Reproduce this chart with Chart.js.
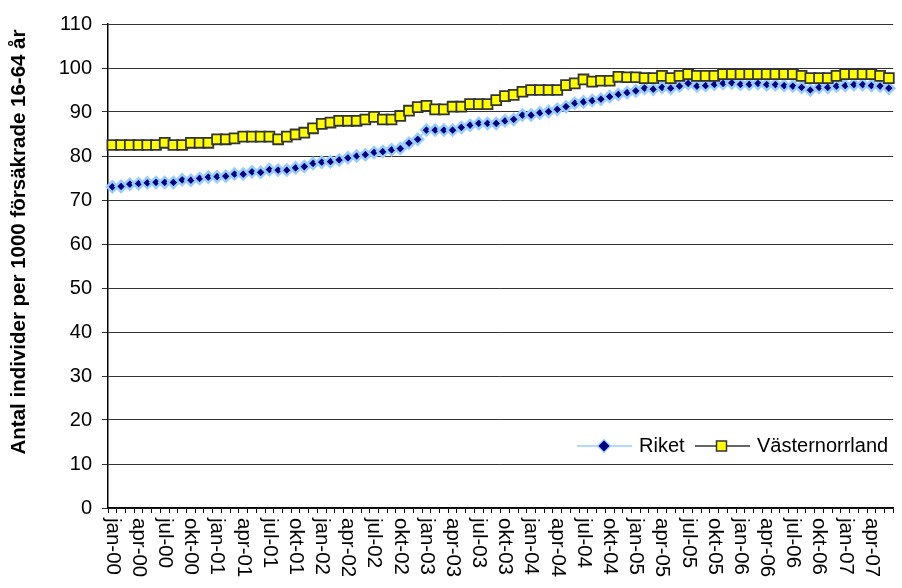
<!DOCTYPE html>
<html>
<head>
<meta charset="utf-8">
<script src="https://cdn.jsdelivr.net/npm/chart.js@4.4.1/dist/chart.umd.min.js"></script>
<style>
  html, body { margin: 0; padding: 0; background: #fff; }
  #wrap { width: 902px; height: 588px; }
</style>
</head>
<body>
<div id="wrap"><canvas id="chart" width="902" height="588"></canvas></div>
<script>
// month names (Swedish) and years used for the category labels
const monthNames = ["jan","feb","mar","apr","maj","jun","jul","aug","sep","okt","nov","dec"];
const years = ["00","01","02","03","04","05","06","07"];

// Riket, jan-00 .. jun-07
const riket = [
  73.0,73.1,73.6,73.7,73.9,74.0,74.0,74.0,74.6,74.5,74.9,75.2,
  75.3,75.4,75.9,75.9,76.4,76.3,76.9,76.8,76.8,77.3,77.6,78.3,
  78.6,78.7,79.1,79.6,80.0,80.3,80.8,81.0,81.4,81.7,82.9,83.8,
  85.9,85.9,85.9,85.9,86.5,87.0,87.4,87.4,87.4,88.0,88.3,89.3,
  89.3,89.8,90.1,90.6,91.2,92.0,92.3,92.6,92.9,93.5,94.0,94.4,
  94.8,95.4,95.2,95.6,95.4,95.9,96.5,95.9,96.0,96.3,96.5,96.6,
  96.3,96.3,96.5,96.2,96.2,96.0,95.9,95.6,95.0,95.6,95.6,95.9,
  96.0,96.2,96.2,96.0,95.9,95.4
];

// Västernorrland, jan-00 .. jun-07
const vasternorrland = [
  82.5,82.5,82.5,82.5,82.5,82.5,83.0,82.5,82.5,83.0,83.0,83.0,
  83.8,83.8,84.0,84.4,84.4,84.4,84.4,83.8,84.4,84.9,85.3,86.3,
  87.3,87.6,88.0,88.0,88.0,88.3,88.9,88.3,88.3,89.1,90.3,91.1,
  91.4,90.6,90.6,91.2,91.2,91.8,91.8,91.8,92.7,93.6,93.9,94.6,
  95.0,95.0,95.0,95.0,96.1,96.5,97.4,96.9,97.1,97.1,98.0,97.9,
  97.9,97.7,97.7,98.2,97.7,98.2,98.6,98.2,98.2,98.2,98.6,98.6,
  98.6,98.6,98.6,98.6,98.6,98.6,98.6,98.2,97.7,97.7,97.7,98.2,
  98.6,98.6,98.6,98.6,98.2,97.7
];

const yTitle = "Antal individer per 1000 försäkrade 16-64 år";

const labels = [];
years.forEach(y => monthNames.forEach(m => labels.push(m + "-" + y)));
labels.length = riket.length;

const FONT = "'Liberation Sans', Arial, sans-serif";

// x labels rotated clockwise, y title and the legend box
const extras = {
  id: "extras",
  afterDraw(chart){
    const ctx = chart.ctx;
    const xs = chart.scales.x;
    ctx.save();
    ctx.fillStyle = "#000";
    ctx.font = "20.5px " + FONT;
    ctx.textAlign = "left";
    ctx.textBaseline = "middle";
    labels.forEach((lab, i) => {
      if (i % 3 !== 0) return;
      const x = xs.getPixelForValue(i);
      ctx.save();
      ctx.translate(x, 518);
      ctx.rotate(Math.PI / 2);
      ctx.fillText(lab, 0, 0);
      ctx.restore();
    });

    // y title
    ctx.save();
    ctx.font = "bold 20.5px " + FONT;
    ctx.textAlign = "center";
    ctx.translate(19, 242);
    ctx.rotate(-Math.PI / 2);
    ctx.fillText(yTitle, 0, 0);
    ctx.restore();

    // legend
    const ly = 446;
    ctx.lineWidth = 1.5;
    ctx.strokeStyle = "#99CCFF";
    ctx.beginPath(); ctx.moveTo(577, ly); ctx.lineTo(632, ly); ctx.stroke();
    ctx.fillStyle = "#000080";
    ctx.lineWidth = 2.5;
    ctx.beginPath();
    ctx.moveTo(604, ly - 5.5); ctx.lineTo(609.5, ly); ctx.lineTo(604, ly + 5.5); ctx.lineTo(598.5, ly);
    ctx.closePath(); ctx.stroke(); ctx.fill();

    ctx.strokeStyle = "#333";
    ctx.lineWidth = 1.5;
    ctx.beginPath(); ctx.moveTo(695, ly); ctx.lineTo(750, ly); ctx.stroke();
    ctx.fillStyle = "#FFFF00";
    ctx.fillRect(716.5, ly - 5, 10, 10);
    ctx.strokeRect(716.5, ly - 5, 10, 10);

    ctx.fillStyle = "#000";
    ctx.font = "20px " + FONT;
    ctx.textAlign = "left";
    ctx.textBaseline = "middle";
    ctx.fillText("Riket", 639, ly);
    ctx.fillText("Västernorrland", 757, ly);
    ctx.restore();
  }
};

new Chart(document.getElementById("chart"), {
  type: "line",
  data: {
    labels: labels,
    datasets: [
      {
        label: "Riket",
        data: riket,
        order: 2,
        borderColor: "#99CCFF",
        borderWidth: 1.5,
        pointStyle: "rectRot",
        pointRadius: 5.5,
        pointBackgroundColor: "#000080",
        pointBorderColor: "#99CCFF",
        pointBorderWidth: 2.5,
        tension: 0
      },
      {
        label: "Västernorrland",
        data: vasternorrland,
        order: 1,
        borderColor: "#333333",
        borderWidth: 2,
        pointStyle: "rect",
        pointRadius: 7,
        pointBackgroundColor: "#FFFF00",
        pointBorderColor: "#333333",
        pointBorderWidth: 1.8,
        tension: 0
      }
    ]
  },
  options: {
    responsive: false,
    animation: false,
    devicePixelRatio: 1,
    layout: { padding: { top: 24, right: 0, left: 0, bottom: 0 } },
    plugins: { legend: { display: false }, tooltip: { enabled: false } },
    scales: {
      x: {
        offset: true,
        ticks: { display: false, autoSkip: false },
        grid: { display: true, offset: true, drawOnChartArea: false, tickLength: 5, color: "#000" },
        border: { display: true, color: "#000", width: 1.5 },
        afterFit(scale){ scale.height = 80; }
      },
      y: {
        min: 0,
        max: 110,
        ticks: { stepSize: 10, color: "#000", font: { size: 20, family: FONT }, padding: 10 },
        grid: { color: "#333333", lineWidth: 1, tickLength: 6 },
        border: { display: true, color: "#000", width: 1.5 },
        afterFit(scale){ scale.width = 108; }
      }
    }
  },
  plugins: [extras]
});
</script>
</body>
</html>
